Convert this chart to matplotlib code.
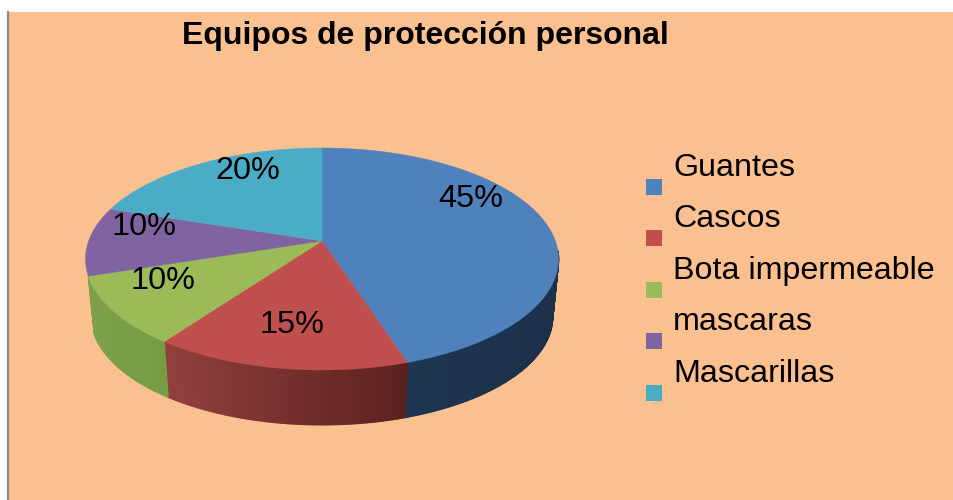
import numpy as np
import matplotlib
matplotlib.use('Agg')
import matplotlib.pyplot as plt
from matplotlib.colors import to_rgb
from matplotlib.patches import Rectangle

plt.rcParams['font.family'] = ['Liberation Sans', 'DejaVu Sans']

# datos
categorias = ['Guantes', 'Cascos', 'Bota impermeable', 'mascaras', 'Mascarillas']
valores = [45, 15, 10, 10, 20]
etiquetas = ['45%', '15%', '10%', '10%', '20%']
colores = ['#4f81bd', '#c0504d', '#9bbb59', '#8064a2', '#4bacc6']
lado_izq = ['#1f3650', '#93403d', '#7da04a', '#6a5387', '#3c8ea6']
lado_der = ['#1c3049', '#5a2120', '#769c44', '#5a4672', '#327a8f']
titulo = 'Equipos de protección personal'

fondo = '#fac090'

fig = plt.figure(figsize=(9.54, 5.0), dpi=100, facecolor='white')
ax = fig.add_axes([0, 0, 1, 1])
ax.set_xlim(0, 954)
ax.set_ylim(500, 0)
ax.axis('off')

ax.add_patch(Rectangle((8, 12), 946, 488, fc=fondo, ec='none', zorder=0))
ax.plot([8, 8], [12, 500], color='#8c8c8c', lw=1.6, zorder=1)


# circulo visto en perspectiva, t en grados desde las 12 en sentido horario
def proyecta(t, dy=0.0, esc=1.0):
    t = np.radians(t)
    s, c = np.sin(t), np.cos(t)
    c = -c
    den = 1 - 0.162 * c
    x = 322 + esc * 233.4 * s / den
    y = 241 + dy + esc * 108.1 * c / den
    return x, y


angulos = np.cumsum([0] + valores) / sum(valores) * 360

# lados (solo la parte frontal)
for i in range(len(valores)):
    a0, a1 = max(angulos[i], 95), min(angulos[i + 1], 252)
    if a1 - a0 < 0.01:
        continue
    ts = np.linspace(a0, a1, int((a1 - a0) * 2) + 2)
    c0, c1 = np.array(to_rgb(lado_izq[i])), np.array(to_rgb(lado_der[i]))
    xa, _ = proyecta(a0)
    xb, _ = proyecta(a1)
    for t0, t1 in zip(ts[:-1], ts[1:]):
        x0, y0 = proyecta(t0)
        x1, y1 = proyecta(t1)
        x2, y2 = proyecta(t1, 58, 0.975)
        x3, y3 = proyecta(t0, 58, 0.975)
        f = ((x0 + x1) / 2 - min(xa, xb)) / abs(xb - xa)
        col = c0 + (c1 - c0) * f
        ax.fill([x0, x1, x2, x3], [y0, y1, y2, y3], color=col, lw=1.0, zorder=2)

# cara superior
for i in range(len(valores)):
    ts = np.linspace(angulos[i], angulos[i + 1], 200)
    x, y = proyecta(ts)
    ax.fill(np.r_[322, x], np.r_[241, y], color=colores[i], lw=0.3, zorder=3)

# porcentajes
pos_etiq = [(471, 199), (292, 325), (163, 281), (144, 227), (248, 171)]
for txt, (x, y) in zip(etiquetas, pos_etiq):
    ax.text(x, y, txt, fontsize=23.3, ha='center', va='center', color='black', zorder=5)

ax.text(182, 36, titulo, fontsize=23, fontweight='bold', ha='left', va='center', zorder=5)

# leyenda
ley_y = [179, 230, 282, 333, 385]
for nom, col, y in zip(categorias, colores, ley_y):
    ax.add_patch(Rectangle((646, y), 16, 16, fc=col, ec='none', zorder=5))
    ax.text(673, y - 3, nom, fontsize=23.2, ha='left', va='baseline', zorder=5)

fig.savefig('out.png', dpi=100, facecolor=fig.get_facecolor())
